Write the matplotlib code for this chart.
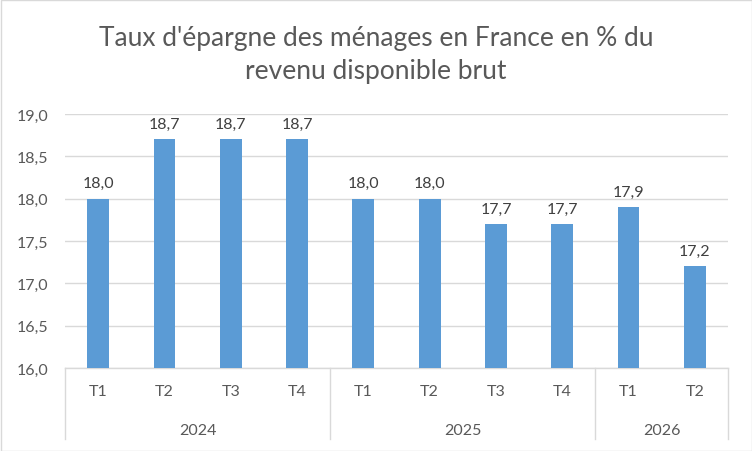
import matplotlib.pyplot as plt
from matplotlib.patches import Rectangle

annees = ["2024", "2025", "2026"]
trimestres = ["T1", "T2", "T3", "T4", "T1", "T2", "T3", "T4", "T1", "T2"]
taux = [18.0, 18.7, 18.7, 18.7, 18.0, 18.0, 17.7, 17.7, 17.9, 17.2]
nb_par_annee = [4, 4, 2]

gris = "#595959"
plt.rcParams["font.family"] = ["Lato", "DejaVu Sans"]

fig = plt.figure(figsize=(7.52, 4.52), dpi=100)
ax = fig.add_axes([65 / 752, 1 - 369 / 452, 663 / 752, 254 / 452])

x = list(range(len(taux)))
bars = ax.bar(x, taux, width=0.33, color="#5B9BD5", zorder=3)
for b, v in zip(bars, taux):
    ax.text(b.get_x() + b.get_width() / 2, v + 0.1, f"{v:.1f}".replace(".", ","),
            ha="center", va="bottom", fontsize=11.5, color="#404040")

ax.set_ylim(16, 19)
ax.set_xlim(-0.5, len(taux) - 0.5)
ax.set_yticks([16 + 0.5 * i for i in range(7)])
ax.set_yticklabels([f"{16 + 0.5 * i:.1f}".replace(".", ",") for i in range(7)])
ax.tick_params(axis="y", length=0, labelsize=11.5, labelcolor=gris, pad=12)
ax.set_xticks([])
ax.grid(axis="y", color="#D9D9D9", linewidth=1, zorder=0)
for s in ax.spines.values():
    s.set_visible(False)

# axe des catégories à deux niveaux
tr = ax.get_xaxis_transform()
ax.plot([-0.5, len(taux) - 0.5], [0, 0], color="#D9D9D9", lw=1, transform=tr, clip_on=False)
for i, t in enumerate(trimestres):
    ax.text(i, -0.09, t, ha="center", va="center", fontsize=11.5, color=gris, transform=tr)
debut = 0
bornes = [-0.5]
for a, n in zip(annees, nb_par_annee):
    ax.text(debut + (n - 1) / 2, -0.245, a, ha="center", va="center",
            fontsize=11.5, color=gris, transform=tr)
    debut += n
    bornes.append(debut - 0.5)
for bx in bornes:
    ax.plot([bx, bx], [0, -0.28], color="#D9D9D9", lw=1, transform=tr, clip_on=False)

fig.text(0.5, 1 - 55 / 452, "Taux d'épargne des ménages en France en % du\nrevenu disponible brut",
         ha="center", va="center", fontsize=19, color=gris, linespacing=1.4)

fig.add_artist(Rectangle((0.5 / 752, 0.5 / 452), 1 - 1 / 752, 1 - 1 / 452,
                         transform=fig.transFigure, fill=False, edgecolor="#D9D9D9", lw=1))

fig.savefig("out.png", dpi=100)
